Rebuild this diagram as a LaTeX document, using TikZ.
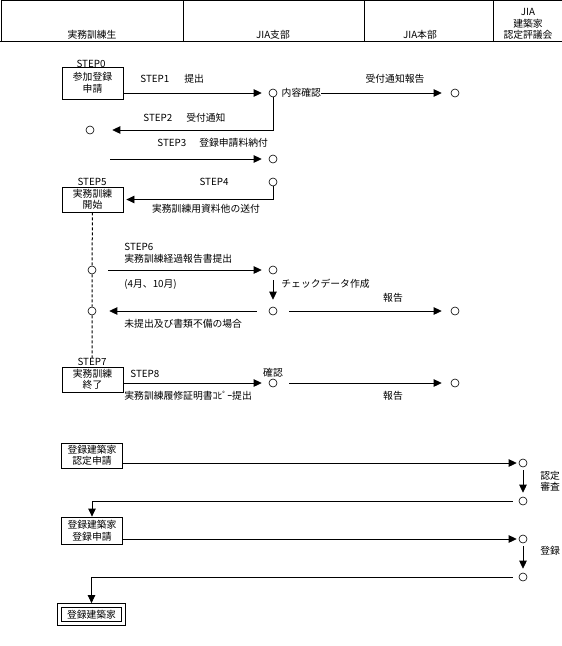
\documentclass[tikz,border=0pt]{standalone}
\usepackage{fontspec}
\setmainfont{Noto Sans CJK JP}
\usetikzlibrary{arrows.meta}

\begin{document}
\begin{tikzpicture}[x=1pt,y=-1pt,line width=0.8pt,
    font=\fontsize{9.8}{11.5}\selectfont,
    every node/.style={inner sep=0pt},
    box/.style={draw,align=center,minimum width=61pt,minimum height=25pt},
    pt/.style={circle,draw,line width=0.6pt,minimum size=8pt},
    arr/.style={-{Triangle[length=8pt,width=7.5pt]}}]
    \useasboundingbox (0,0) rectangle (562,646);

    % header
    \draw (1,0.5) -- (562,0.5);
    \draw (1,0.5) -- (1,41);
    \draw (0,41) -- (562,41);
    \foreach \x in {183,364,493} \draw (\x,0.5) -- (\x,41);
    \node (h1) at (92,35) {実務訓練生};
    \node (h2) at (273,35) {JIA支部};
    \node (h3) at (420,35) {JIA本部};
    \node[align=center] (h4) at (528,24) {JIA\\建築家\\認定評議会};

    % trainee boxes
    \node (step0) at (91,64) {STEP0};
    \node[box,minimum height=32pt] (apply) at (92.5,83) {参加登録\\申請};
    \node (step5) at (92,182) {STEP5};
    \node[box] (start) at (92.5,199.5) {実務訓練\\開始};
    \node (step7) at (92,362) {STEP7};
    \node[box] (finish) at (92.5,379.5) {実務訓練\\終了};

    % circles
    \node[pt] (s1) at (273,93) {};
    \node[anchor=west] (chk) at ([xshift=4pt]s1.east) {内容確認};
    \node[pt] (hq1) at (455,93) {};
    \node[pt] (t2) at (90,130) {};
    \node[pt] (s3) at (273,159) {};
    \node[pt] (s4) at (273,182) {};
    \node[pt] (t6) at (92,270) {};
    \node[pt] (s6) at (273,270) {};
    \node[pt] (t7) at (92,311) {};
    \node[pt] (s7) at (273,311) {};
    \node[pt] (hq7) at (455,311) {};
    \node[pt] (s8) at (273,383) {};
    \node[pt] (hq8) at (455,383) {};
    \coordinate (st3) at (110,159);

    % labels
    \node[anchor=west] (l1) at (140,79) {STEP1\hspace{15pt}提出};
    \node (l1b) at (395,79) {受付通知報告};
    \node[anchor=west] (l2) at (143,118) {STEP2\hspace{14pt}受付通知};
    \node[anchor=west] (l3) at (157,143) {STEP3\hspace{13pt}登録申請料納付};
    \node (l4) at (214,182) {STEP4};
    \node (l4b) at (206,209) {実務訓練用資料他の送付};
    \node[anchor=west,align=left] (l6) at (124,253.5) {STEP6\\実務訓練経過報告書提出};
    \node[anchor=west] (l6b) at (124,284) {(4月、10月)};
    \node[anchor=west] (l6c) at (281,284) {チェックデータ作成};
    \node (l6d) at (393,298) {報告};
    \node[anchor=west] (l6e) at (124,324) {未提出及び書類不備の場合};
    \node[anchor=west] (l8) at (130,374) {STEP8};
    \node (l8b) at (273,373) {確認};
    \node[anchor=west] (l8c) at (124,396) {実務訓練履修証明書ｺﾋﾟｰ提出};
    \node (l8d) at (393,396) {報告};

    \path[arr]
    (apply.east |- s1) edge [shorten >=7pt] (s1)
    (chk) edge [shorten >=9pt] (hq1)
    (st3) edge [shorten >=7pt] (s3)
    (t6) edge [shorten <=12pt,shorten >=7pt] (s6)
    (s6) edge [shorten <=6pt,shorten >=7pt] (s7)
    (s7) edge [shorten <=12pt,shorten >=13pt] (t7)
    (s7) edge [shorten <=12pt,shorten >=9pt] (hq7)
    (finish.east |- s8) edge [shorten >=7pt] (s8)
    (s8) edge [shorten <=12pt,shorten >=9pt] (hq8);
    \draw[arr,shorten >=18pt] (s1.south) |- (t2.east);
    \draw[arr,shorten >=3pt] (s4.south) |- (start.east);

    \draw[line width=1pt,dash pattern=on 3pt off 2pt] (start.south) -- (t6.north)
        (t6.south) -- (t7.north) (t7.south) -- (step7.north);

    % registration
    \node[box] (reqA) at (92,455.5) {登録建築家\\認定申請};
    \node[box,minimum height=27pt] (reqB) at (92,530.5) {登録建築家\\登録申請};
    \node[draw,double,double distance=3.5pt,minimum width=64pt,minimum height=18pt] (arch) at (91.5,614.5) {登録建築家};
    \node[pt] (c1) at (523,463) {};
    \node[pt] (c2) at (523,501) {};
    \node[pt] (c3) at (523,539) {};
    \node[pt] (c4) at (523,577) {};
    \node[anchor=west,align=left] (lc1) at (540,481.5) {認定\\審査};
    \node[anchor=west] (lc3) at (540,551) {登録};

    \path[arr]
    (reqA.east |- c1) edge [shorten >=2pt] (c1)
    (c1) edge [shorten <=3pt,shorten >=4pt] (c2)
    (reqB.east |- c3) edge [shorten >=2pt] (c3)
    (c3) edge [shorten <=3pt,shorten >=4pt] (c4);
    \draw[arr,shorten <=6pt] (c2.west) -| (reqB.north);
    \draw[arr,shorten <=6pt,shorten >=2pt] (c4.west) -| (arch.north);
\end{tikzpicture}
\end{document}
